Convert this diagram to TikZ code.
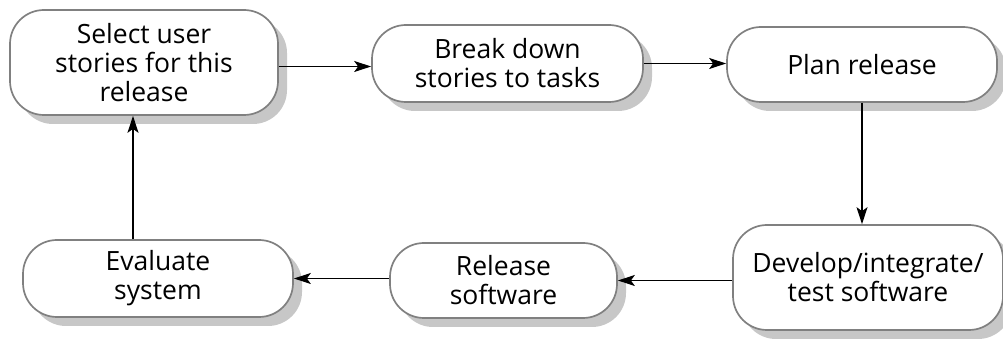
\documentclass[tikz,border=0pt]{standalone}
\usepackage{fontspec}
\setmainfont{Open Sans}
\usepackage{tikz}
\usetikzlibrary{arrows.meta,shadows,calc}

\tikzset{
    task/.style={draw=black!50, line width=1.7pt, fill=white, rounded corners=34pt,
        align=center, inner sep=0pt, font=\fontsize{26.5}{29}\selectfont,
        drop shadow={shadow xshift=9pt, shadow yshift=-9pt, fill=black!22, opacity=1}},
    arr/.style={-{Stealth[length=17pt,width=11pt,inset=4pt]}, line width=1.2pt}
}

\begin{document}
\begin{tikzpicture}[x=1pt,y=1pt]
    \useasboundingbox (0,0) rectangle (1003,339);
    \node[task, minimum width=268pt, minimum height=105pt] (sel) at (144,276.5) {Select user\\stories for this\\release};
    \node[task, minimum width=271pt, minimum height=77pt] (brk) at (507.5,275.5) {Break down\\stories to tasks};
    \node[task, minimum width=270pt, minimum height=75pt] (pln) at (862,274.5) {Plan release};
    \node[task, minimum width=270pt, minimum height=105pt] (dev) at (868,61.5) {Develop/integrate/\\test software};
    \node[task, minimum width=227pt, minimum height=75pt] (rel) at (503.5,58.5) {Release\\software};
    \node[task, minimum width=270pt, minimum height=77pt] (evl) at (158,60.5) {Evaluate\\system};
    \draw[arr] ([yshift=-3pt]brk.west -| sel.east) -- ([yshift=-3pt]brk.west);
    \draw[arr] (brk.east) -- (brk.east -| pln.west);
    \draw[arr] (pln.south) -- (pln.south |- dev.north);
    \draw[arr] (rel.east -| dev.west) -- (rel.east);
    \draw[arr] (evl.east -| rel.west) -- (evl.east);
    \draw[arr] ([xshift=-11pt]sel.south |- evl.north) -- ([xshift=-11pt]sel.south);
\end{tikzpicture}
\end{document}
